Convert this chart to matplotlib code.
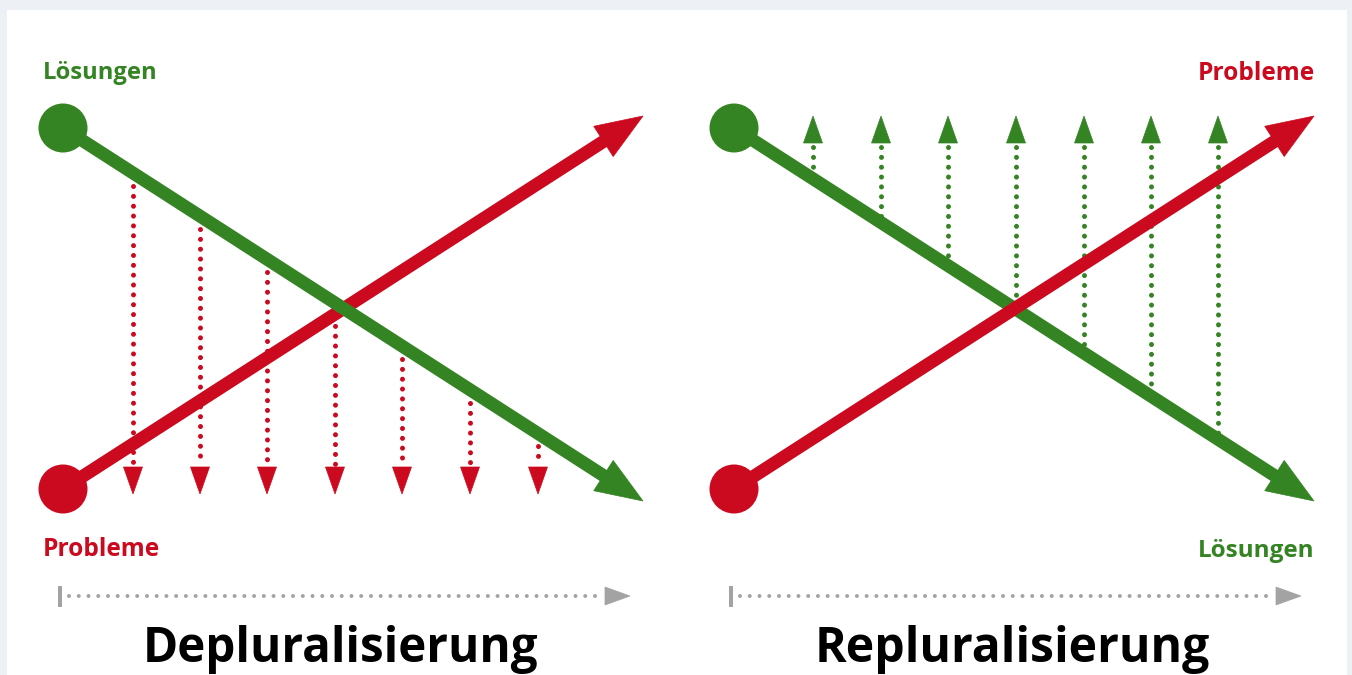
import numpy as np
import matplotlib
matplotlib.use("Agg")
import matplotlib.pyplot as plt
from matplotlib.patches import Circle, Polygon, Rectangle

# ---------------- data ----------------
panel_titles = ["Depluralisierung", "Repluralisierung"]
panel_offsets = [0, 671]                      # x-offset of each panel (px)
start_top = (63, 128)                         # circle at upper left
start_bottom = (63, 489)                      # circle at lower left
end_top = (643, 116)                          # arrow tip upper right
end_bottom = (643, 501)                       # arrow tip lower right

# left panel: red dotted arrows falling from the green line
drop_x_left = [133, 200, 267, 335, 402, 470, 538]
drop_tip_y_left = 494
# right panel: green dotted arrows rising from the green line
rise_x_right = [813, 881, 948, 1016, 1084, 1151, 1218]
rise_tip_y_right = 116

label_top = ["Lösungen", "Probleme"]
label_bottom = ["Probleme", "Lösungen"]

GREEN = "#358424"
RED = "#cc0a1f"
GRAY = "#a3a3a3"
BG = "#edf1f5"

W, H = 1352, 675
fig = plt.figure(figsize=(W / 100, H / 100), dpi=100)
fig.patch.set_facecolor(BG)
ax = fig.add_axes([0, 0, 1, 1])
ax.set_xlim(0, W)
ax.set_ylim(H, 0)
ax.axis("off")
ax.add_patch(Rectangle((7, 10), 1340, 700, facecolor="white", edgecolor="none", zorder=0))

PX = 72 / 100  # points per pixel


def head(tip, direction, length, width, color, z=3):
    d = np.array(direction, float)
    d /= np.linalg.norm(d)
    n = np.array([-d[1], d[0]])
    tip = np.array(tip, float)
    base = tip - d * length
    pts = [tip, base + n * width / 2, base - n * width / 2]
    ax.add_patch(Polygon(pts, closed=True, facecolor=color, edgecolor=color, lw=0.5, zorder=z))
    return base


def main_arrow(p0, p1, color, z):
    p0 = np.array(p0, float)
    p1 = np.array(p1, float)
    base = head(p1, p1 - p0, 47, 36, color, z)
    ax.plot([p0[0], base[0] + (p1 - p0)[0] * 0.005], [p0[1], base[1] + (p1 - p0)[1] * 0.005],
            color=color, lw=13 * PX, solid_capstyle="butt", zorder=z)
    ax.add_patch(Circle(p0, 24.5, facecolor=color, edgecolor="none", zorder=z))


def line_y(x, p0, p1):
    return p0[1] + (x - p0[0]) * (p1[1] - p0[1]) / (p1[0] - p0[0])


def dotted(x0, y0, x1, y1, color, lw_px, gap_px):
    lw = lw_px * PX
    ax.plot([x0, x1], [y0, y1], color=color, lw=lw,
            linestyle=(0, (0.01, gap_px / lw_px)), dash_capstyle="round", zorder=2)


def fit_text(x, y, s, color, width_px, ha, size0, weight="bold", family="Open Sans"):
    t = ax.text(x, y, s, color=color, fontsize=size0, fontweight=weight, family=family,
                ha=ha, va="center", zorder=5)
    fig.canvas.draw()
    w = t.get_window_extent().width
    t.set_fontsize(size0 * width_px / w)
    return t


for i, off in enumerate(panel_offsets):
    st = (start_top[0] + off, start_top[1])
    sb = (start_bottom[0] + off, start_bottom[1])
    et = (end_top[0] + off, end_top[1])
    eb = (end_bottom[0] + off, end_bottom[1])

    if i == 0:
        main_arrow(sb, et, RED, 3)
        main_arrow(st, eb, GREEN, 4)
        for x in drop_x_left:
            y_start = line_y(x, st, eb) + 13
            base = head((x, drop_tip_y_left), (0, 1), 27, 19, RED)
            dotted(x, y_start, x, base[1] - 2, RED, 5, 9.8)
        fit_text(43, 73, label_top[i], GREEN, 115, "left", 14)
        fit_text(43, 550, label_bottom[i], RED, 118, "left", 14)
    else:
        main_arrow(st, eb, GREEN, 3)
        main_arrow(sb, et, RED, 4)
        for x in rise_x_right:
            y_end = line_y(x, st, eb) - 6
            base = head((x, rise_tip_y_right), (0, -1), 27, 19, GREEN)
            dotted(x, base[1] + 4, x, y_end, GREEN, 5, 9.8)
        fit_text(1315, 73, label_top[i], RED, 118, "right", 14)
        fit_text(1315, 551, label_bottom[i], GREEN, 117, "right", 14)

    # timeline
    tx0 = 60 + off
    ax.plot([tx0, tx0], [586, 607], color=GRAY, lw=4 * PX, solid_capstyle="butt", zorder=2)
    base = head((630 + off, 596), (1, 0), 25, 18, GRAY, z=2)
    dotted(tx0 + 9, 596, base[0] - 4, 596, GRAY, 4, 9.7)

    # title
    fit_text(341 + off, 650, panel_titles[i], "black", 396, "center", 36)

fig.savefig("out.png", dpi=100, facecolor=BG)
